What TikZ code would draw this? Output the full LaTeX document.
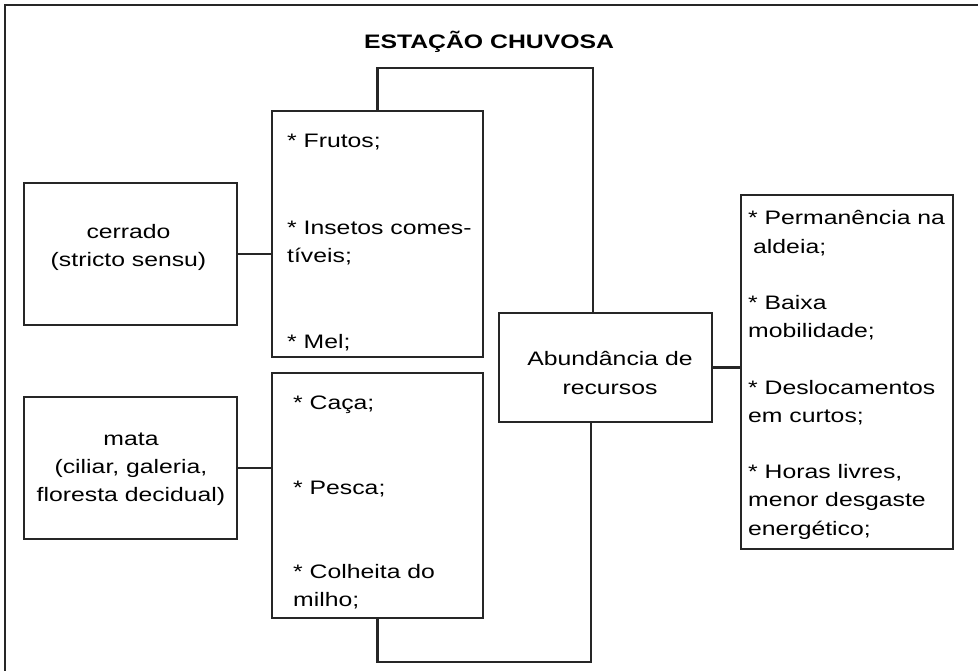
\documentclass[tikz,border=0pt]{standalone}
\usepackage{fontspec}
\setmainfont{Liberation Sans}[FakeStretch=1.27]
\usepackage{tikz}

\begin{document}
\begin{tikzpicture}[x=1pt, y=-1pt,
    line join=miter,
    box/.style={draw=black!85, line width=2.4pt, inner sep=0pt},
    link/.style={draw=black!85, line width=2.4pt},
    txt/.style={inner sep=0pt, font=\fontsize{19.5}{28.2}\selectfont},
    ]
    \useasboundingbox (0,0) rectangle (978,671);

    % frame (only left and top edge are inside the picture)
    \draw[black!85, line width=1.6pt] (5,671) -- (5,5) -- (978,5);

    % title
    \node[txt, anchor=base, font=\fontsize{19.5}{28.2}\selectfont\bfseries] (title) at (489,49) {ESTAÇÃO CHUVOSA};

    % Boxes: environment, resources, result, consequences
    \node[box, minimum width=213pt, minimum height=142pt] (cerrado) at (130.5,254) {};
    \node[box, minimum width=213pt, minimum height=142pt] (mata)    at (130.5,468) {};
    \node[box, minimum width=211pt, minimum height=246pt] (frutos)  at (377.5,234) {};
    \node[box, minimum width=211pt, minimum height=245pt] (caca)    at (377.5,495.5) {};
    \node[box, minimum width=213pt, minimum height=109pt] (abund)   at (605.5,367.5) {};
    \node[box, minimum width=212pt, minimum height=354pt] (result)  at (847,372) {};

    % texts (base anchor = baseline of the last line)
    \node[txt, anchor=base, align=center] (cerradotxt) at (128.5,267) {cerrado\\(stricto sensu)};
    \node[txt, anchor=base, align=center] (matatxt)    at (131,501.5) {mata\\(ciliar, galeria,\\floresta decidual)};
    \node[txt, anchor=base west, align=left] (frutostxt) at (287,348.5)
        {* Frutos;\\[58pt]* Insetos comes-\\tíveis;\\[58pt]* Mel;};
    \node[txt, anchor=base west, align=left] (cacatxt) at (293,606.5)
        {* Caça;\\[56pt]* Pesca;\\[56pt]* Colheita do\\milho;};
    \node[txt, anchor=base, align=center] (abundtxt) at (610,394) {Abundância de\\recursos};
    \node[txt, anchor=base west, align=left] (resulttxt) at (748,535)
        {* Permanência na\\\hspace*{5pt}aldeia;\\[28.2pt]%
         * Baixa\\mobilidade;\\[28.2pt]%
         * Deslocamentos\\em curtos;\\[28.2pt]%
         * Horas livres,\\menor desgaste\\energético;};

    % connectors
    \coordinate (top) at (593,68);
    \coordinate (bot) at (591,662);
    \draw[link] (cerrado.east) -- (cerrado.east -| frutos.west);
    \draw[link] (mata.east) -- (mata.east -| caca.west);
    \draw[link] (frutos.north) |- (top) -- (top |- abund.north);
    \draw[link] (caca.south) |- (bot) -- (bot |- abund.south);
    \draw[link] (abund.east) -- (abund.east -| result.west);
\end{tikzpicture}
\end{document}
